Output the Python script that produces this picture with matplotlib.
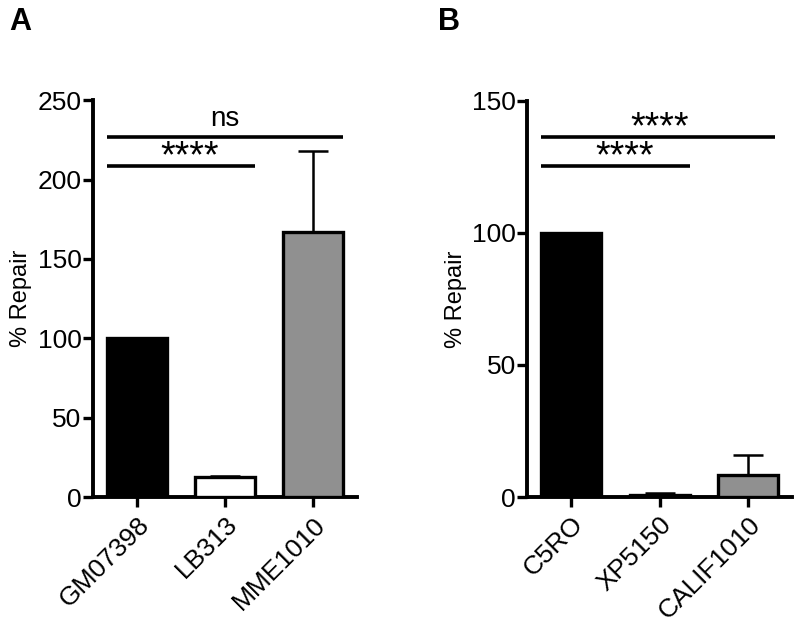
import matplotlib
matplotlib.use("Agg")
import matplotlib.pyplot as plt

plt.rcParams['font.family'] = ['Liberation Sans', 'DejaVu Sans']

# Panel A data
cats_a = ["GM07398", "LB313", "MME1010"]
vals_a = [100, 12.5, 167]
errs_a = [0, 1.0, 51]
colors_a = ["#000000", "#ffffff", "#909090"]

# Panel B data
cats_b = ["C5RO", "XP5150", "CALIF1010"]
vals_b = [100, 0.8, 8.3]
errs_b = [0, 0.7, 7.6]
colors_b = ["#000000", "#ffffff", "#909090"]

yticks_a = [0, 50, 100, 150, 200, 250]
yticks_b = [0, 50, 100, 150]

fig = plt.figure(figsize=(8, 6.26), dpi=100)
axA = fig.add_axes([0.116, 0.206, 0.330, 0.634])
axB = fig.add_axes([0.659, 0.206, 0.331, 0.633])

LW = 2.4
FS = 17
TFS = 19

def draw(ax, cats, vals, errs, colors, ylim, yticks):
    x = list(range(len(cats)))
    ax.bar(x, vals, width=0.68, color=colors, edgecolor='black', linewidth=LW, zorder=3)
    for xi, v, e in zip(x, vals, errs):
        if e > 0:
            ax.errorbar([xi], [v], yerr=[[0], [e]], fmt='none', ecolor='black',
                        elinewidth=1.8, capsize=11, capthick=1.8, zorder=2)
    ax.set_xlim(-0.5, 2.5)
    ax.set_ylim(*ylim)
    ax.set_yticks(yticks)
    ax.set_xticks(x)
    ax.set_xticklabels(cats, rotation=45, ha='right', rotation_mode='anchor', fontsize=TFS)
    ax.tick_params(axis='y', labelsize=TFS, width=LW, length=7, pad=1)
    ax.tick_params(axis='x', width=LW, length=7, pad=4)
    for s in ['top', 'right']:
        ax.spines[s].set_visible(False)
    for s in ['left', 'bottom']:
        ax.spines[s].set_linewidth(LW + 0.4)
    ax.set_ylabel("% Repair", fontsize=FS, labelpad=4)

draw(axA, cats_a, vals_a, errs_a, colors_a, (0, 250), yticks_a)
draw(axB, cats_b, vals_b, errs_b, colors_b, (0, 150), yticks_b)

# significance bars
def sig(ax, x0, x1, y, text, tx, ty, fs):
    ax.plot([x0, x1], [y, y], color='black', lw=2.6, solid_capstyle='butt', clip_on=False)
    ax.text(tx, ty, text, ha='center', va='center', fontsize=fs)

sig(axA, -0.34, 2.34, 226.7, "ns", 1.0, 238, 20)
sig(axA, -0.34, 1.34, 208.4, "****", 0.6, 214, 27)
sig(axB, -0.34, 2.31, 136.4, "****", 1.0, 139.5, 27)
sig(axB, -0.34, 1.34, 125.4, "****", 0.6, 128.5, 27)

fig.text(0.012, 0.965, "A", fontsize=22, fontweight='bold', va='center', ha='left')
fig.text(0.548, 0.965, "B", fontsize=22, fontweight='bold', va='center', ha='left')

fig.savefig("out.png", dpi=100)
